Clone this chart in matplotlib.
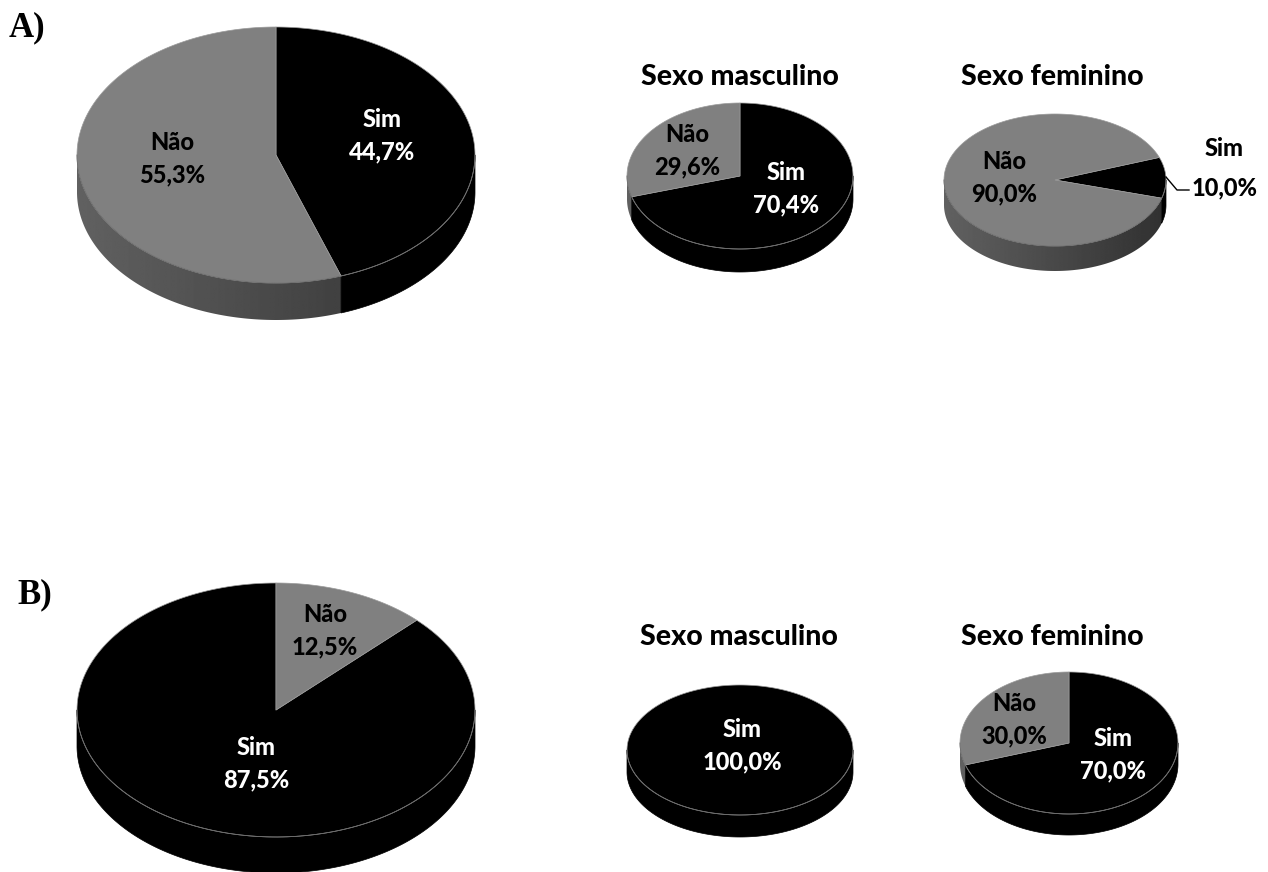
import numpy as np
import matplotlib
matplotlib.use("Agg")
import matplotlib.pyplot as plt
from matplotlib.patches import Polygon

# data: percentages of "Sim" / "Não"
labels = ["Sim", "Não"]
a_total = [44.7, 55.3]
a_masc = [70.4, 29.6]
a_fem = [10.0, 90.0]
b_total = [87.5, 12.5]
b_masc = [100.0, 0.0]
b_fem = [70.0, 30.0]
titles = ["Sexo masculino", "Sexo feminino"]

BLACK = 0.0
GRAY = 0.5
slice_shades = [BLACK, GRAY]   # Sim black, Não gray


def pt(cx, cy, rx, ry, t):
    # t in degrees, clockwise from 12 o'clock; y axis points down
    r = np.radians(t)
    return cx + rx * np.sin(r), cy - ry * np.cos(r)


def pie3d(ax, values, cx, cy, rx, ry, depth, start):
    total = sum(values)
    spans = []
    a = start
    for v, shade in zip(values, slice_shades):
        if v <= 0:
            continue
        da = 360 * v / total
        spans.append((a, a + da, shade))
        a += da

    # visible rim (front half, 90..270 deg)
    gx = np.linspace(-1, 1, 256)
    for a0, a1, shade in spans:
        for k in (-1, 0, 1):
            lo = max(a0, 90 + 360 * k)
            hi = min(a1, 270 + 360 * k)
            if hi <= lo:
                continue
            ts = np.linspace(lo, hi, 200)
            xs, ys = pt(cx, cy, rx, ry, ts)
            verts = list(zip(xs, ys)) + list(zip(xs[::-1], ys[::-1] + depth))
            if shade == 0:
                ax.add_patch(Polygon(verts, closed=True, facecolor="black", edgecolor="black", lw=0.5))
                continue
            poly = Polygon(verts, closed=True, facecolor="none", edgecolor="none")
            ax.add_patch(poly)
            grad = shade * (0.57 - 0.19 * gx)
            im = ax.imshow(grad[np.newaxis, :], cmap="gray", vmin=0, vmax=1, aspect="auto",
                           extent=[cx - rx, cx + rx, cy + ry + depth, cy - ry],
                           interpolation="bilinear")
            im.set_clip_path(poly)

    # top face
    for a0, a1, shade in spans:
        ts = np.linspace(a0, a1, 200)
        xs, ys = pt(cx, cy, rx, ry, ts)
        if a1 - a0 < 359.9:
            verts = [(cx, cy)] + list(zip(xs, ys))
        else:
            verts = list(zip(xs, ys))
        ax.add_patch(Polygon(verts, closed=True, facecolor=(shade,) * 3,
                             edgecolor="#9a9a9a", lw=0.5, joinstyle="round"))
    # faint rim line on the front edge
    ts = np.linspace(90, 270, 200)
    xs, ys = pt(cx, cy, rx, ry, ts)
    ax.plot(xs, ys, color="#6a6a6a", lw=0.6)


plt.rcParams["font.family"] = ["Lato", "DejaVu Sans"]
fig = plt.figure(figsize=(12.68, 8.72), dpi=100)
ax = fig.add_axes([0, 0, 1, 1])

lab_fs = 17
tit_fs = 20.5
heavy = "black"

# A) row
pie3d(ax, a_total, 276, 155, 199, 128, 37, 0)
pie3d(ax, a_masc, 740, 176, 113, 73, 23, 0)
pie3d(ax, a_fem, 1055, 180, 111, 66, 25, 70)
# B) row
pie3d(ax, b_total, 276, 710, 199, 127, 36, 45)
pie3d(ax, b_masc, 740, 750, 113, 65, 22, 0)
pie3d(ax, b_fem, 1069, 743, 109, 71, 21, 0)

ax.set_xlim(0, 1268)
ax.set_ylim(872, 0)
ax.axis("off")

serif = ["Liberation Serif", "DejaVu Serif"]
ax.text(9, 28, "A)", fontsize=25, fontweight="bold", family=serif, ha="left", va="center")
ax.text(17, 595, "B)", fontsize=25, fontweight="bold", family=serif, ha="left", va="center")

for x, y, t in [(740, 77, titles[0]), (1052, 77, titles[1]),
                (739, 637, titles[0]), (1052, 637, titles[1])]:
    ax.text(x, y, t, fontsize=tit_fs, fontweight=heavy, ha="center", va="center")


def fmt(v):
    return f"{v:.1f}%".replace(".", ",")


def lab(x, y, name, v, color):
    ax.text(x, y, f"{name}\n{fmt(v)}", fontsize=lab_fs, fontweight=heavy, color=color,
            ha="center", va="center", linespacing=1.5)


lab(382, 136, labels[0], a_total[0], "white")
lab(172, 159, labels[1], a_total[1], "black")
lab(786, 189, labels[0], a_masc[0], "white")
lab(687, 151, labels[1], a_masc[1], "black")
lab(1004, 178, labels[1], a_fem[1], "black")
ax.text(1224, 149, labels[0], fontsize=lab_fs, fontweight=heavy, ha="center", va="center")
ax.text(1225, 188, fmt(a_fem[0]), fontsize=lab_fs, fontweight=heavy, ha="center", va="center")
ax.plot([1166, 1177, 1189], [177, 190, 190], color="black", lw=1)

lab(325, 631, labels[1], b_total[1], "black")
lab(256, 764, labels[0], b_total[0], "white")
lab(742, 746, labels[0], b_masc[0], "white")
lab(1014, 720, labels[1], b_fem[1], "black")
lab(1113, 755, labels[0], b_fem[0], "white")

fig.savefig("out.png", dpi=100, facecolor="white")
